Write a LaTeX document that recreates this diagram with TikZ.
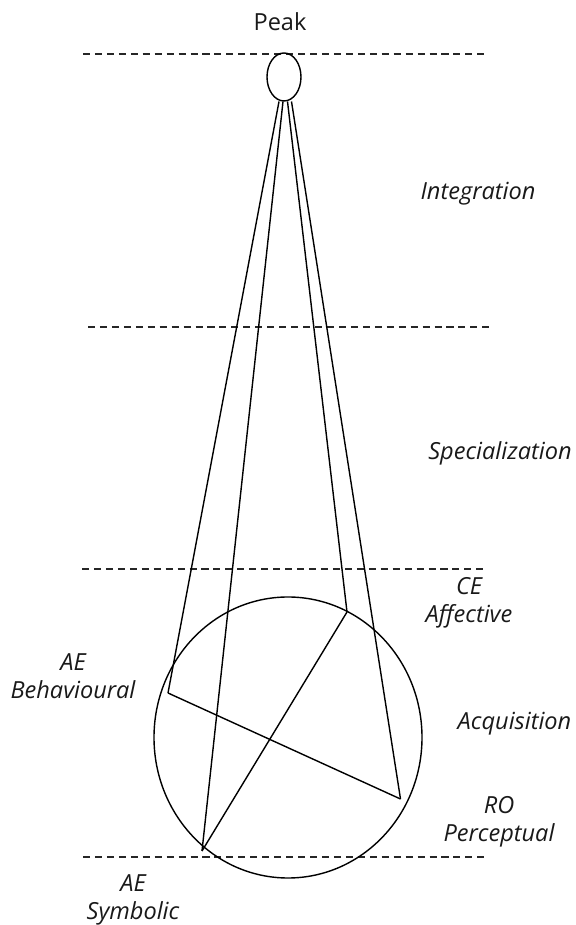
\documentclass[tikz,border=0pt]{standalone}
\usepackage{fontspec}
\setmainfont{Open Sans}
\usetikzlibrary{positioning, shapes.geometric}

\tikzset{
  level/.style={dash pattern=on 4pt off 2.8pt, line width=0.8pt, color=black!85},
  link/.style={line width=0.8pt},
  stage/.style={font=\fontsize{13.4}{15.8}\selectfont\itshape, text=black!90, align=center, inner sep=0pt},
}

\begin{document}
\begin{tikzpicture}
    \useasboundingbox (0,0) rectangle (11.52,18.5);

    % stage boundaries
    \draw[level] (1.66,17.42) -- (9.78,17.42);
    \draw[level] (1.76,11.96) -- (9.88,11.96);
    \draw[level] (1.64,7.12) -- (9.76,7.12);
    \draw[level] (1.66,1.36) -- (9.76,1.36);

    % peak
    \node[draw, ellipse, link, minimum width=0.68cm, minimum height=0.96cm, inner sep=0pt] (peak) at (5.68,16.96) {};
    \node[font=\fontsize{13.4}{15.8}\selectfont, text=black!90, inner sep=0pt] (peaklabel) at (5.6,18.06) {Peak};
    \coordinate (p1) at (5.58,16.47);
    \coordinate (p2) at (5.66,16.47);
    \coordinate (p3) at (5.75,16.47);
    \coordinate (p4) at (5.83,16.47);

    % learning circle
    \draw[link] (5.76,3.75) ellipse [x radius=2.68, y radius=2.81];
    \coordinate (ae1) at (3.36,4.64);
    \coordinate (ae2) at (4.04,1.48);
    \coordinate (ce) at (6.94,6.26);
    \coordinate (ro) at (8.01,2.52);

    \draw[link] (p1) -- (ae1);
    \draw[link] (p2) -- (ae2);
    \draw[link] (p3) -- (ce);
    \draw[link] (p4) -- (ro);
    \draw[link] (ae1) -- (ro);
    \draw[link] (ce) -- (ae2);

    % labels
    \node[stage] (integration) at (9.56,14.62) {Integration};
    \node[stage] (specialization) at (10.0,9.44) {Specialization};
    \node[stage] (acquisition) at (10.29,4.02) {Acquisition};
    \node[stage] (celabel) at (9.38,6.44) {CE\\Affective};
    \node[stage] (rolabel) at (9.98,2.06) {RO\\Perceptual};
    \node[stage] (aelabel1) at (1.46,4.98) {AE\\Behavioural};
    \node[stage] (aelabel2) at (2.66,0.5) {AE\\Symbolic};
\end{tikzpicture}
\end{document}
